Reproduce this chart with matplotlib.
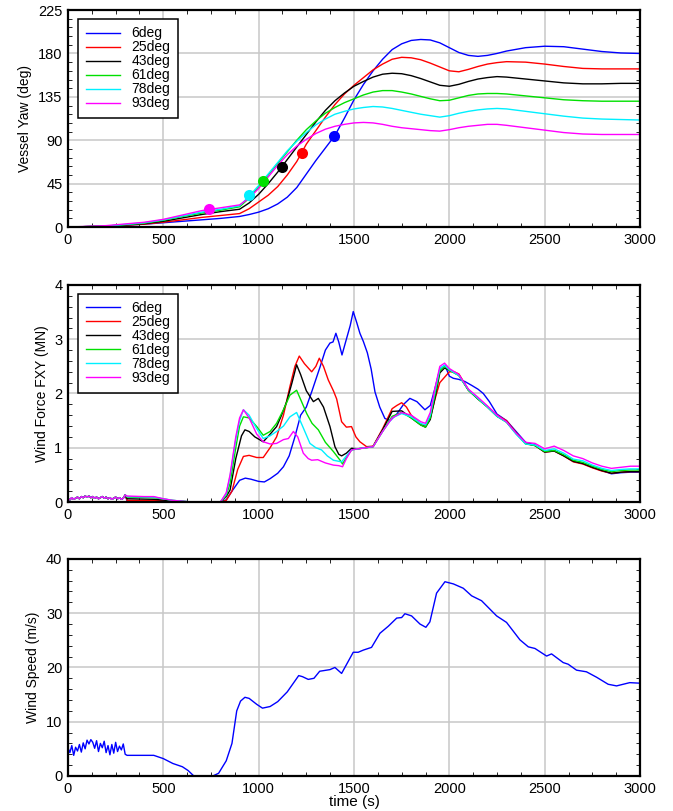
import numpy as np
import matplotlib.pyplot as plt
from matplotlib.ticker import MultipleLocator

plt.rcParams['font.family'] = ['Liberation Sans', 'DejaVu Sans']

labels = ['6deg', '25deg', '43deg', '61deg', '78deg', '93deg']
colors = ['#0000ff', '#ff0000', '#000000', '#00e000', '#00f0ff', '#ff00ff']

# ---- vessel yaw (deg) ----
yaw_t = [0, 200, 400, 500, 600, 700, 800, 900, 950, 1000, 1050, 1100, 1150, 1200,
         1250, 1300, 1350, 1400, 1450, 1500, 1550, 1600, 1650, 1700, 1750, 1800,
         1850, 1900, 1950, 2000, 2050, 2100, 2150, 2200, 2250, 2300, 2400, 2500,
         2600, 2700, 2800, 2900, 3000]
yaw_6 = [0, 1, 3, 4.5, 6, 7.5, 9, 11, 13, 15.5, 19, 24, 31, 41, 55, 69, 82, 95, 113,
         132, 148, 162, 174, 184, 190, 193.5, 194.5, 194, 191, 186, 181, 178, 177,
         178, 180, 182.5, 186, 187.5, 187, 184.5, 182, 180.5, 180]
yaw_25 = [0, 1, 3, 5, 7.5, 10, 12, 14, 19, 26, 33, 42, 54, 68, 86, 100, 114, 127, 138,
          147, 155, 163, 169, 174, 176, 175.5, 173.5, 170, 166, 162, 161, 163.5,
          166.5, 169, 170.5, 171.5, 171, 169, 166.5, 164.5, 164, 164, 164]
yaw_43 = [0, 1, 3.5, 6, 9.5, 13, 16, 18.5, 25, 34, 45, 57, 70, 83, 96, 109, 121, 131,
          139, 146, 151, 155.5, 158.5, 159.5, 159, 157, 154, 150.5, 147, 146, 148,
          151, 153.5, 155, 156, 155.5, 153.5, 151.5, 149.5, 148.5, 148.5, 149, 149]
yaw_61 = [0, 1, 4, 7, 11, 14.5, 17.5, 21, 30, 42, 54, 66, 78, 90, 101, 110, 118, 124,
          129, 133, 137, 140, 141.5, 141.5, 140, 138, 135.5, 133, 131, 131.5, 134,
          136.5, 138, 138.5, 138.5, 138, 136, 134, 132, 131, 130.5, 130.5, 130.5]
yaw_78 = [0, 1, 4.5, 7.5, 11.5, 15.5, 18.5, 22, 32, 43, 55, 67, 79, 89, 98, 106, 112,
          117, 120, 122.5, 124, 125, 124.5, 123, 121, 119, 117, 115.5, 114, 115.5,
          118, 120, 121.5, 122.5, 123, 122.5, 120, 117.5, 115, 113, 112, 111.5, 111]
yaw_93 = [0, 1.5, 5, 8, 12.5, 17, 20, 23, 30, 40, 52, 64, 75, 84, 91, 97, 101.5, 104.5,
          106.5, 108, 108.5, 108, 106.5, 104.5, 103, 102, 101, 100, 99.5, 101, 103,
          104.5, 105.5, 106.5, 106.5, 105.5, 103, 100.5, 98, 96.5, 96, 96, 96]
# dots on each yaw curve
dot_t = [1395, 1225, 1120, 1024, 951, 741]
dot_yaw = [94, 77, 62, 47.5, 33, 18.5]

# ---- wind force FXY (MN) ----
calm_t = list(range(0, 301, 10))
calm_force = [0.06, 0.04, 0.08, 0.05, 0.07, 0.09, 0.06, 0.10, 0.08, 0.11, 0.09, 0.11,
              0.08, 0.10, 0.07, 0.09, 0.06, 0.08, 0.10, 0.07, 0.09, 0.06, 0.08, 0.05,
              0.07, 0.09, 0.06, 0.08, 0.05, 0.07, 0.13]

f6_t = [310, 450, 550, 650, 800, 830, 860, 900, 930, 960, 1000, 1030, 1060, 1100,
        1130, 1160, 1190, 1220, 1250, 1280, 1322, 1350, 1374, 1390, 1405, 1420, 1437,
        1460, 1480, 1496, 1515, 1531, 1549, 1570, 1590, 1610, 1635, 1662, 1690, 1724,
        1760, 1793, 1830, 1872, 1900, 1925, 1951, 1977, 2000, 2021, 2050, 2082, 2117,
        2150, 2178, 2210, 2250, 2300, 2350, 2400, 2450, 2500, 2550, 2600, 2650, 2700,
        2750, 2800, 2850, 2900, 2950, 3000]
f6 = [0.02, 0.02, 0.01, 0.0, 0.0, 0.04, 0.2, 0.4, 0.44, 0.42, 0.38, 0.37, 0.43, 0.53,
      0.65, 0.85, 1.2, 1.6, 1.75, 2.05, 2.49, 2.8, 2.93, 2.95, 3.11, 2.95, 2.71, 3.0,
      3.25, 3.51, 3.3, 3.11, 2.96, 2.75, 2.45, 2.03, 1.75, 1.54, 1.5, 1.62, 1.8, 1.91,
      1.85, 1.7, 1.78, 2.1, 2.46, 2.52, 2.32, 2.28, 2.26, 2.22, 2.15, 2.08, 2.0, 1.85,
      1.62, 1.5, 1.3, 1.1, 1.05, 0.93, 0.95, 0.86, 0.75, 0.71, 0.64, 0.58, 0.52, 0.54,
      0.55, 0.55]

f25_t = [310, 450, 550, 650, 800, 830, 860, 890, 920, 950, 990, 1024, 1060, 1094, 1130,
         1164, 1190, 1213, 1240, 1278, 1300, 1318, 1340, 1365, 1392, 1409, 1435, 1460,
         1487, 1510, 1531, 1566, 1600, 1650, 1700, 1725, 1750, 1775, 1800, 1850, 1875,
         1900, 1925, 1950, 1975, 2000, 2025, 2050, 2100, 2150, 2200, 2250, 2300, 2350,
         2400, 2450, 2500, 2550, 2600, 2650, 2700, 2750, 2800, 2850, 2900, 2950, 3000]
f25 = [0.03, 0.03, 0.01, 0.0, 0.0, 0.03, 0.2, 0.6, 0.84, 0.86, 0.82, 0.82, 1.0, 1.2,
       1.6, 2.13, 2.5, 2.69, 2.55, 2.4, 2.5, 2.65, 2.5, 2.25, 2.05, 1.9, 1.48, 1.38,
       1.39, 1.2, 1.11, 1.02, 1.03, 1.35, 1.72, 1.78, 1.83, 1.75, 1.6, 1.43, 1.4, 1.55,
       1.9, 2.2, 2.3, 2.4, 2.4, 2.36, 2.07, 1.9, 1.76, 1.6, 1.5, 1.28, 1.08, 1.04, 0.92,
       0.94, 0.85, 0.74, 0.7, 0.63, 0.57, 0.53, 0.55, 0.56, 0.56]

tail_t = [1520, 1560, 1600, 1650, 1700, 1750, 1800, 1850, 1875, 1900, 1925, 1950, 1975,
          2000, 2050, 2100, 2150, 2200, 2250, 2300, 2350, 2400, 2450, 2500, 2550, 2600,
          2650, 2700, 2750, 2800, 2850, 2900, 2950, 3000]

f43_t = [310, 450, 550, 650, 800, 830, 850, 880, 910, 928, 950, 980, 1024, 1060, 1094,
         1120, 1147, 1175, 1199, 1220, 1250, 1287, 1313, 1340, 1374, 1400, 1420, 1435,
         1460, 1487] + tail_t
f43 = [0.06, 0.05, 0.02, 0.0, 0.0, 0.1, 0.22, 0.8, 1.22, 1.33, 1.3, 1.2, 1.11, 1.25,
       1.39, 1.6, 1.85, 2.2, 2.53, 2.35, 2.05, 1.85, 1.91, 1.75, 1.39, 1.02, 0.88, 0.85,
       0.9, 0.99,
       0.98, 1.0, 1.02, 1.33, 1.67, 1.68, 1.55, 1.42, 1.38, 1.52, 1.92, 2.38, 2.47, 2.43,
       2.34, 2.06, 1.9, 1.75, 1.58, 1.48, 1.27, 1.08, 1.04, 0.92, 0.94, 0.85, 0.75, 0.71,
       0.64, 0.58, 0.53, 0.55, 0.56, 0.56]

f61_t = [310, 450, 550, 650, 800, 830, 850, 880, 900, 920, 950, 990, 1024, 1060, 1094,
         1130, 1164, 1199, 1225, 1252, 1280, 1313, 1350, 1392, 1427, 1440, 1460,
         1487] + tail_t
f61 = [0.09, 0.08, 0.03, 0.0, 0.0, 0.12, 0.34, 1.0, 1.4, 1.57, 1.55, 1.39, 1.23, 1.3,
       1.45, 1.7, 1.97, 2.06, 1.85, 1.63, 1.45, 1.33, 1.1, 0.93, 0.77, 0.7, 0.82, 0.96,
       0.98, 1.0, 1.02, 1.3, 1.58, 1.65, 1.55, 1.42, 1.38, 1.55, 1.98, 2.42, 2.5, 2.43,
       2.33, 2.06, 1.9, 1.75, 1.58, 1.47, 1.26, 1.07, 1.04, 0.93, 0.95, 0.87, 0.77, 0.73,
       0.66, 0.6, 0.56, 0.58, 0.59, 0.59]

f78_t = [310, 450, 550, 650, 800, 830, 850, 880, 900, 920, 950, 990, 1024, 1060, 1094,
         1130, 1164, 1199, 1230, 1269, 1300, 1330, 1360, 1392, 1435, 1460,
         1487] + tail_t
f78 = [0.1, 0.09, 0.03, 0.0, 0.0, 0.15, 0.47, 1.15, 1.5, 1.7, 1.6, 1.35, 1.17, 1.22,
       1.3, 1.4, 1.57, 1.65, 1.4, 1.08, 1.0, 0.96, 0.85, 0.77, 0.74, 0.85, 0.96,
       0.98, 1.0, 1.02, 1.3, 1.55, 1.63, 1.57, 1.45, 1.42, 1.6, 2.05, 2.46, 2.52, 2.44,
       2.33, 2.07, 1.91, 1.75, 1.58, 1.47, 1.25, 1.07, 1.05, 0.95, 0.98, 0.9, 0.79, 0.76,
       0.68, 0.62, 0.58, 0.6, 0.61, 0.61]

f93_t = [310, 400, 450, 500, 550, 650, 800, 830, 850, 880, 900, 920, 950, 990, 1024,
         1060, 1094, 1130, 1156, 1182, 1205, 1234, 1260, 1278, 1310, 1350, 1392, 1420,
         1440, 1460, 1487] + tail_t
f93 = [0.11, 0.1, 0.1, 0.06, 0.03, 0.0, 0.0, 0.17, 0.5, 1.2, 1.55, 1.7, 1.55, 1.25,
       1.11, 1.07, 1.08, 1.15, 1.17, 1.3, 1.2, 0.9, 0.8, 0.77, 0.78, 0.72, 0.68, 0.67,
       0.65, 0.8, 0.96,
       0.98, 1.0, 1.02, 1.3, 1.55, 1.65, 1.6, 1.48, 1.45, 1.65, 2.1, 2.5, 2.56, 2.46,
       2.35, 2.08, 1.93, 1.77, 1.6, 1.48, 1.27, 1.1, 1.08, 0.98, 1.03, 0.95, 0.85, 0.8,
       0.72, 0.66, 0.62, 0.64, 0.66, 0.66]

# ---- wind speed (m/s) ----
gust_t = list(range(0, 301, 10))
gust_speed = [5.2, 4.3, 5.6, 3.8, 5.3, 4.6, 5.8, 4.4, 6.1, 5.0, 6.6, 5.9, 6.7, 6.2, 5.1,
              6.5, 4.5, 6.0, 5.2, 6.4, 4.3, 5.6, 3.9, 5.8, 4.2, 6.2, 4.5, 5.5, 4.8, 5.9,
              4.0]
speed_t = [310, 400, 450, 500, 550, 600, 630, 660, 700, 760, 790, 830, 860, 885, 905,
           928, 950, 990, 1020, 1060, 1100, 1150, 1180, 1210, 1230, 1260, 1290, 1320,
           1374, 1400, 1435, 1496, 1522, 1549, 1592, 1636, 1680, 1724, 1750, 1767, 1802,
           1846, 1877, 1898, 1933, 1977, 2021, 2073, 2117, 2169, 2248, 2300, 2370, 2414,
           2449, 2510, 2536, 2597, 2623, 2667, 2719, 2772, 2833, 2877, 2946, 3000]
speed = [3.8, 3.8, 3.8, 3.2, 2.3, 1.7, 1.0, 0.0, 0.0, 0.0, 0.5, 2.8, 6.0, 12.0, 13.8,
         14.5, 14.3, 13.2, 12.5, 12.8, 13.7, 15.5, 17.0, 18.5, 18.3, 17.8, 18.0, 19.3,
         19.6, 20.0, 18.9, 22.8, 22.8, 23.2, 23.7, 26.3, 27.6, 29.1, 29.2, 29.9, 29.5,
         28.0, 27.4, 28.4, 33.7, 35.8, 35.4, 34.6, 33.2, 32.3, 29.5, 28.3, 25.1, 23.8,
         23.5, 22.1, 22.5, 20.9, 20.6, 19.5, 19.2, 18.2, 16.9, 16.6, 17.2, 17.1]


def style_axes(ax, ymax, ystep, yminor):
    ax.set_xlim(0, 3000)
    ax.set_ylim(0, ymax)
    ax.xaxis.set_major_locator(MultipleLocator(500))
    ax.xaxis.set_minor_locator(MultipleLocator(125))
    ax.yaxis.set_major_locator(MultipleLocator(ystep))
    ax.yaxis.set_minor_locator(MultipleLocator(yminor))
    ax.grid(True, which='major', color='#c8c8c8', lw=1.1)
    ax.set_axisbelow(True)
    ax.tick_params(which='major', length=0, pad=4, labelsize=10.5)
    ax.tick_params(which='minor', direction='in', length=3, width=0.6,
                   top=True, right=True, bottom=True, left=True)
    for sp in ax.spines.values():
        sp.set_linewidth(1.6)


def add_legend(ax):
    leg = ax.legend(loc='upper left', bbox_to_anchor=(0.0175, 0.96), borderaxespad=0,
                    fontsize=10, labelspacing=0.0, handlelength=2.5, handletextpad=0.8,
                    borderpad=0.55, fancybox=False, framealpha=1, edgecolor='black')
    leg.get_frame().set_linewidth(1.1)


fig = plt.figure(figsize=(6.73, 8.11), dpi=100)
ax1 = fig.add_axes([0.101, 0.720, 0.850, 0.2676])
ax2 = fig.add_axes([0.101, 0.381, 0.850, 0.2676])
ax3 = fig.add_axes([0.101, 0.0432, 0.850, 0.2676])

# yaw
yaw_series = [yaw_6, yaw_25, yaw_43, yaw_61, yaw_78, yaw_93]
for ys, c, lab in zip(yaw_series, colors, labels):
    ax1.plot(yaw_t, ys, color=c, lw=1.0, label=lab)
for tx, ty, c in zip(dot_t, dot_yaw, colors):
    ax1.plot(tx, ty, 'o', color=c, ms=8, mec='none')
style_axes(ax1, 225, 45, 9)
ax1.set_ylabel('Vessel Yaw (deg)', fontsize=10)
add_legend(ax1)

# wind force
force_series = [(f6_t, f6), (f25_t, f25), (f43_t, f43), (f61_t, f61), (f78_t, f78),
                (f93_t, f93)]
for (ft, fv), c, lab in zip(force_series, colors, labels):
    ax2.plot(calm_t + ft, calm_force + fv, color=c, lw=1.0, label=lab)
style_axes(ax2, 4, 1, 0.2)
ax2.set_ylabel('Wind Force FXY (MN)', fontsize=10)
add_legend(ax2)

# wind speed
ax3.plot(gust_t + speed_t, gust_speed + speed, color='#0000ff', lw=1.0)
style_axes(ax3, 40, 10, 2)
ax3.set_ylabel('Wind Speed (m/s)', fontsize=10)
ax3.set_xlabel('time (s)', fontsize=11, labelpad=0)
ax3.xaxis.set_label_coords(0.5, -0.09)

fig.savefig('out.png', dpi=100)
